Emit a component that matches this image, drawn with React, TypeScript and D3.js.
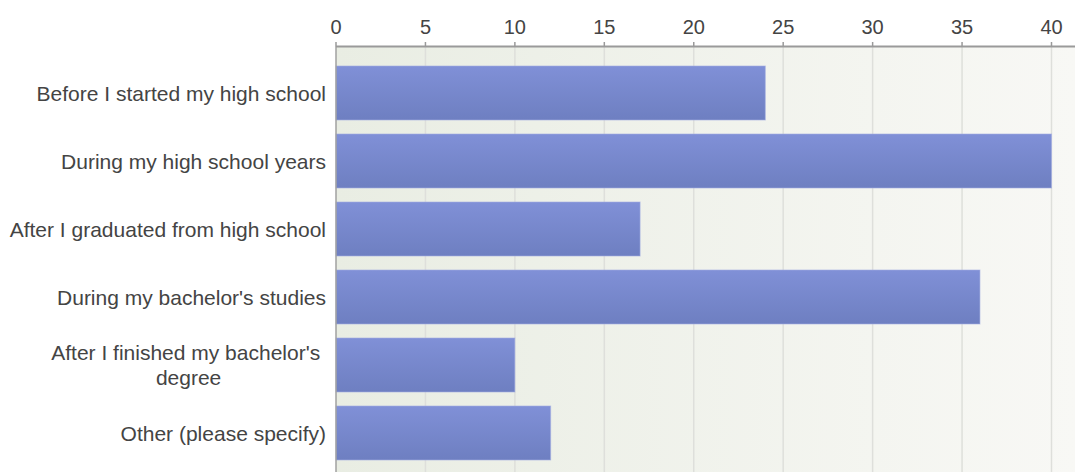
import React, { useEffect, useRef } from "react";
import * as d3 from "d3";

const categories: string[] = [
  "Before I started my high school",
  "During my high school years",
  "After I graduated from high school",
  "During my bachelor's studies",
  "After I finished my bachelor's \ndegree",
  "Other (please specify)",
];
const values: number[] = [24, 40, 17, 36, 10, 12];
const tickValues: number[] = [0, 5, 10, 15, 20, 25, 30, 35, 40];

const W = 1075;
const H = 472;

export default function App() {
  const ref = useRef<SVGSVGElement | null>(null);

  useEffect(() => {
    const svg = d3.select(ref.current);
    svg.selectAll("*").remove();
    const font = "'Liberation Sans', Arial, sans-serif";

    const x = d3.scaleLinear().domain([0, 40]).range([336, 1051.5]);
    const y = d3
      .scaleBand<string>()
      .domain(categories)
      .range([59, 467])
      .paddingInner(14 / 68)
      .paddingOuter(7 / 68);

    const defs = svg.append("defs");
    const bg = defs
      .append("linearGradient")
      .attr("id", "bg")
      .attr("x1", "0")
      .attr("x2", "1")
      .attr("y1", "0")
      .attr("y2", "0");
    bg.append("stop").attr("offset", "0").attr("stop-color", "#e9ede3");
    bg.append("stop").attr("offset", "1").attr("stop-color", "#f8f8f5");

    const bar = defs
      .append("linearGradient")
      .attr("id", "bar")
      .attr("x1", "0")
      .attr("x2", "0")
      .attr("y1", "0")
      .attr("y2", "1");
    bar.append("stop").attr("offset", "0").attr("stop-color", "#8090d7");
    bar.append("stop").attr("offset", "1").attr("stop-color", "#6e7fc1");

    const plotTop = 47;
    svg
      .append("rect")
      .attr("x", x(0))
      .attr("y", plotTop)
      .attr("width", W - x(0))
      .attr("height", H - plotTop)
      .attr("fill", "url(#bg)");

    // gridlines
    svg
      .append("g")
      .selectAll("line")
      .data(tickValues.filter((t) => t > 0))
      .join("line")
      .attr("x1", (d) => x(d))
      .attr("x2", (d) => x(d))
      .attr("y1", plotTop)
      .attr("y2", H)
      .attr("stroke", "#dedfdb")
      .attr("stroke-width", 1.5);

    // bars
    const g = svg.append("g");
    g.selectAll("rect")
      .data(values)
      .join("rect")
      .attr("x", x(0))
      .attr("y", (_, i) => y(categories[i])!)
      .attr("width", (d) => x(d) - x(0))
      .attr("height", y.bandwidth())
      .attr("fill", "url(#bar)")
      .attr("stroke", "#a3aee3")
      .attr("stroke-opacity", 0.6)
      .attr("stroke-width", 1);

    // left axis line
    svg
      .append("line")
      .attr("x1", x(0))
      .attr("x2", x(0))
      .attr("y1", plotTop)
      .attr("y2", H)
      .attr("stroke", "#a0a0a0")
      .attr("stroke-width", 1.5);

    // top axis
    svg
      .append("line")
      .attr("x1", x(0))
      .attr("x2", W)
      .attr("y1", plotTop - 0.5)
      .attr("y2", plotTop - 0.5)
      .attr("stroke", "#9a9a9a")
      .attr("stroke-width", 2);

    const ticks = svg.append("g");
    ticks
      .selectAll("line")
      .data(tickValues)
      .join("line")
      .attr("x1", (d) => x(d))
      .attr("x2", (d) => x(d))
      .attr("y1", plotTop - 5)
      .attr("y2", plotTop)
      .attr("stroke", "#9a9a9a")
      .attr("stroke-width", 1.5);
    ticks
      .selectAll("text")
      .data(tickValues)
      .join("text")
      .attr("x", (d) => x(d))
      .attr("y", 34)
      .attr("text-anchor", "middle")
      .attr("font-family", font)
      .attr("font-size", 20)
      .attr("fill", "#444")
      .text((d) => String(d));

    // category labels
    const labelRight = 326;
    const lineH = 25;
    categories.forEach((c) => {
      const lines = c.split("\n");
      const cy = y(c)! + y.bandwidth() / 2;
      const t = svg
        .append("text")
        .attr("font-family", font)
        .attr("font-size", 21)
        .attr("fill", "#444")
        .attr("xml:space", "preserve")
        .style("white-space", "pre");
      const spans = lines.map((ln, k) =>
        t
          .append("tspan")
          .attr("y", cy + (k - (lines.length - 1) / 2) * lineH)
          .attr("dy", "0.36em")
          .text(ln)
      );
      if (lines.length === 1) {
        t.attr("text-anchor", "end");
        spans[0].attr("x", labelRight);
      } else {
        const widths = spans.map((s) => (s.node() as SVGTextContentElement).getComputedTextLength());
        const maxW = Math.max(...widths);
        const cx = labelRight - maxW / 2;
        t.attr("text-anchor", "middle");
        spans.forEach((s) => s.attr("x", cx));
      }
    });
  }, []);

  return (
    <svg
      ref={ref}
      width={W}
      height={H}
      style={{ position: "absolute", left: 0, top: 0, background: "#fff" }}
    />
  );
}
